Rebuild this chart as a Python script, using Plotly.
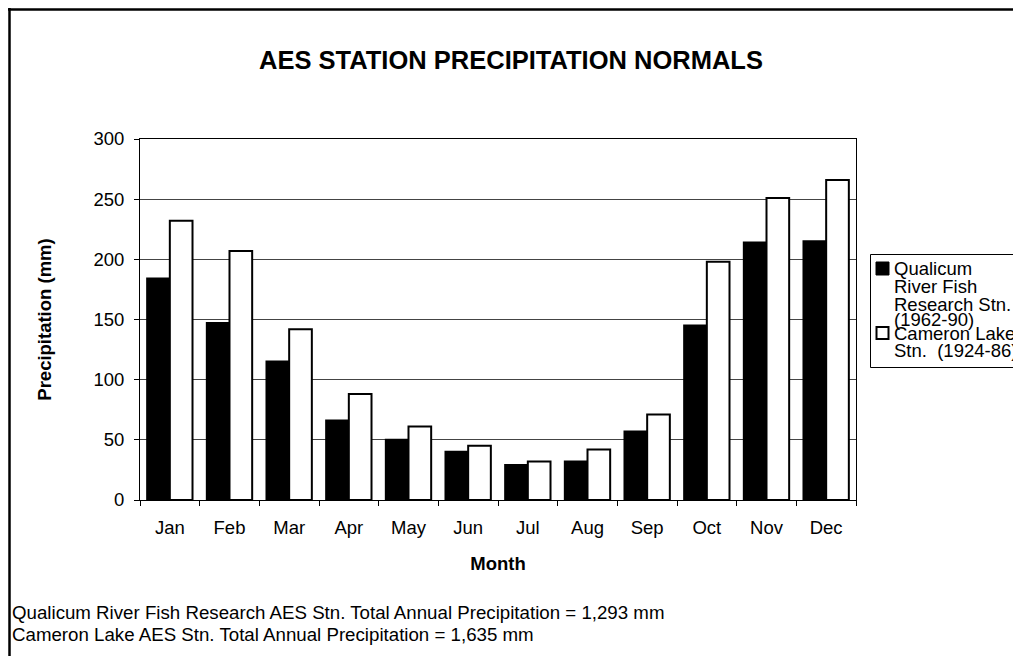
import plotly.graph_objects as go

# ---- data ----
months = ["Jan", "Feb", "Mar", "Apr", "May", "Jun", "Jul", "Aug", "Sep", "Oct", "Nov", "Dec"]
qualicum = [184, 147, 115, 66, 50, 40, 29, 32, 57, 145, 214, 215]
cameron = [232, 207, 142, 88, 61, 45, 32, 42, 71, 198, 251, 266]
series_names = ["Qualicum River Fish Research Stn. (1962-90)", "Cameron Lake Stn. (1924-86)"]
legend_lines_q = ["Qualicum", "River Fish", "Research Stn.", "(1962-90)"]
legend_lines_c = ["Cameron Lake", "Stn.  (1924-86)"]
footer_lines = [
    "Qualicum River Fish Research AES Stn. Total Annual Precipitation = 1,293 mm",
    "Cameron Lake AES Stn. Total Annual Precipitation = 1,635 mm",
]
y_ticks = [0, 50, 100, 150, 200, 250, 300]

FONT = "Liberation Sans, Arial, sans-serif"
OFF = 8  # page body margin of the browser
SW, SH = 1021, 656            # screen size
W, H = SW - OFF, SH - OFF     # figure size
# plot area in screen pixels
SL, SR, ST, SB = 140, 856, 139, 500
L, R, T, B = SL - OFF, SR - OFF, ST - OFF, SB - OFF


def px_x(p):
    """screen x pixel -> paper x"""
    return (p - SL) / (SR - SL)


def px_y(p):
    """screen y pixel -> paper y"""
    return (SB - p) / (SB - ST)


fig = go.Figure()
fig.add_trace(go.Bar(x=months, y=qualicum, name=series_names[0],
                     marker=dict(color="black", line=dict(color="black", width=2))))
fig.add_trace(go.Bar(x=months, y=cameron, name=series_names[1],
                     marker=dict(color="white", line=dict(color="black", width=2))))

fig.update_layout(
    width=W, height=H,
    margin=dict(l=L, r=W - R, t=T, b=H - B, autoexpand=False),
    paper_bgcolor="white", plot_bgcolor="white",
    barmode="group", bargap=0.24, bargroupgap=0,
    showlegend=False,
    font=dict(family=FONT, size=18.5, color="black"),
    title=dict(text="<b>AES STATION PRECIPITATION NORMALS</b>",
               x=(511 - OFF) / W, xref="container", xanchor="center",
               y=1 - (60 - OFF) / H, yref="container", yanchor="middle",
               font=dict(family=FONT, size=25.5, color="black")),
)

fig.update_xaxes(
    type="category", showline=True, linecolor="black", linewidth=1, mirror=True,
    ticks="outside", tickson="boundaries", ticklen=5, tickcolor="black",
    showgrid=False, ticklabelstandoff=11,
    title=dict(text="<b>Month</b>", standoff=19, font=dict(size=18.5)),
)
# companion axis giving the inner half of the crossing category ticks
fig.update_layout(xaxis2=dict(
    overlaying="x", matches="x", anchor="y", side="bottom", type="category",
    categoryorder="array", categoryarray=months,
    ticks="inside", tickson="boundaries", ticklen=5, tickcolor="black",
    showticklabels=False, showline=False, showgrid=False, zeroline=False,
))
fig.update_yaxes(
    range=[0, 300], tickvals=y_ticks, showline=True, linecolor="black", linewidth=1, mirror=True,
    ticks="outside", ticklen=5, tickcolor="black",
    showgrid=True, gridcolor="#444444", gridwidth=1, zeroline=False,
    ticklabelstandoff=6,
    title=dict(text="<b>Precipitation (mm)</b>", standoff=36, font=dict(size=18.5)),
)

shapes = []
# outer chart border (left and top visible)
shapes.append(dict(type="line", xref="paper", yref="paper",
                   x0=px_x(9.5), x1=px_x(9.5), y0=px_y(8), y1=px_y(670),
                   line=dict(color="black", width=2.5)))
shapes.append(dict(type="line", xref="paper", yref="paper",
                   x0=px_x(8), x1=px_x(1040), y0=px_y(9.5), y1=px_y(9.5),
                   line=dict(color="black", width=2.5)))
# legend box
shapes.append(dict(type="rect", xref="paper", yref="paper",
                   x0=px_x(870.5), x1=px_x(1040), y0=px_y(254.5), y1=px_y(367.5),
                   line=dict(color="black", width=1), fillcolor="white", layer="above"))
# legend symbols
shapes.append(dict(type="rect", xref="paper", yref="paper",
                   x0=px_x(876), x1=px_x(889), y0=px_y(262), y1=px_y(275),
                   line=dict(color="black", width=1), fillcolor="black", layer="above"))
shapes.append(dict(type="rect", xref="paper", yref="paper",
                   x0=px_x(876.5), x1=px_x(888.5), y0=px_y(327), y1=px_y(339),
                   line=dict(color="black", width=2), fillcolor="white", layer="above"))
fig.update_layout(shapes=shapes)

annotations = []
line_y_q = [268, 286, 304, 319]
line_y_c = [333, 350]
for txt, yy in zip(legend_lines_q, line_y_q):
    annotations.append(dict(text=txt, xref="paper", yref="paper", x=px_x(892), y=px_y(yy),
                            xanchor="left", yanchor="middle", showarrow=False,
                            font=dict(family=FONT, size=18.5, color="black")))
for txt, yy in zip(legend_lines_c, line_y_c):
    annotations.append(dict(text=txt, xref="paper", yref="paper", x=px_x(892), y=px_y(yy),
                            xanchor="left", yanchor="middle", showarrow=False,
                            font=dict(family=FONT, size=18.5, color="black")))
for txt, yy in zip(footer_lines, [612, 634]):
    annotations.append(dict(text=txt, xref="paper", yref="paper", x=px_x(10), y=px_y(yy),
                            xanchor="left", yanchor="middle", showarrow=False,
                            font=dict(family=FONT, size=18.7, color="black")))
fig.update_layout(annotations=annotations)

fig.write_html("out.html")
